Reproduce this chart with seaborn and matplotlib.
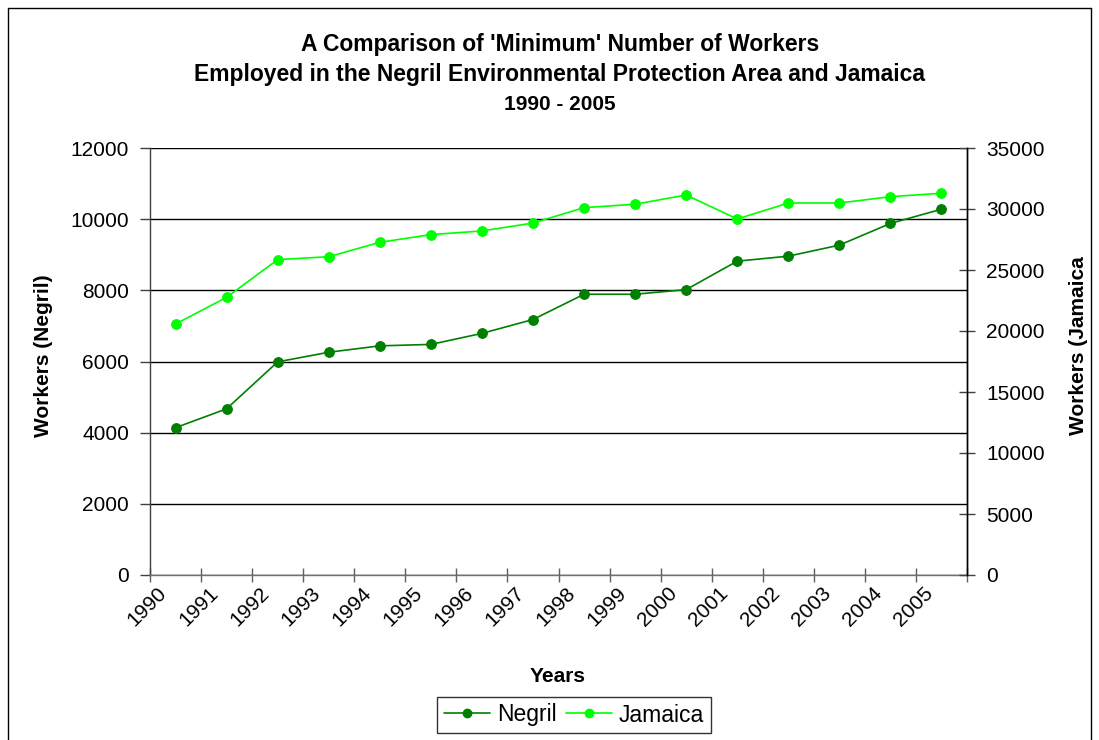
import pandas as pd
import matplotlib
matplotlib.use('Agg')
import matplotlib.pyplot as plt
import matplotlib.transforms as mtransforms
from matplotlib.lines import Line2D
import seaborn as sns

# data
years = ['1990', '1991', '1992', '1993', '1994', '1995', '1996', '1997',
         '1998', '1999', '2000', '2001', '2002', '2003', '2004', '2005']
negril = [4140, 4670, 5990, 6260, 6440, 6480, 6790, 7180,
          7890, 7890, 8020, 8820, 8960, 9270, 9880, 10280]
jamaica = [20570, 22760, 25850, 26090, 27270, 27900, 28200, 28850,
           30110, 30390, 31150, 29180, 30490, 30490, 31010, 31290]
title_lines = ["A Comparison of 'Minimum' Number of Workers",
               "Employed in the Negril Environmental Protection Area and Jamaica",
               "1990 - 2005"]

df = pd.DataFrame({'year': years, 'negril': negril, 'jamaica': jamaica})

sns.set_theme(style='white')
plt.rcParams['font.family'] = ['Liberation Sans', 'DejaVu Sans']
plt.rcParams['text.color'] = 'black'
plt.rcParams['axes.labelcolor'] = 'black'
plt.rcParams['xtick.color'] = 'black'
plt.rcParams['ytick.color'] = 'black'

W, H = 1099, 740
fig = plt.figure(figsize=(W / 100, H / 100), dpi=100)
fig.patch.set_facecolor('white')

# plot area in pixels: x 150-967, y 148-575
ax = fig.add_axes([150 / W, 1 - 575 / H, 817 / W, 427 / H])
ax2 = ax.twinx()

neg_col = '#008000'
jam_col = '#00FF00'

sns.lineplot(data=df, x='year', y='negril', ax=ax, color=neg_col, marker='o',
             markersize=7, markeredgecolor=neg_col, linewidth=1.2, sort=False)
sns.lineplot(data=df, x='year', y='jamaica', ax=ax2, color=jam_col, marker='o',
             markersize=7, markeredgecolor=jam_col, linewidth=1.2, sort=False)

ax.set_xlim(-0.5, len(years) - 0.5)
ax.set_ylim(0, 12000)
ax2.set_ylim(0, 35000)
ax.set_yticks(range(0, 12001, 2000))
ax2.set_yticks(range(0, 35001, 5000))

# gridlines on the left axis
ax.yaxis.grid(True, color='black', linewidth=1)
ax.set_axisbelow(True)

# x ticks: marks at category boundaries, labels centred
ax.set_xticks(range(len(years)))
ax.set_xticklabels(years, rotation=45, ha='right', fontsize=15)
ax.set_xticks([i - 0.5 for i in range(len(years) + 1)], minor=True)
ax.tick_params(axis='x', which='major', length=0, pad=6)
ax.tick_params(axis='x', which='minor', length=10, direction='inout',
               color='#606060', width=1, bottom=True)
shift = mtransforms.ScaledTranslation(-5 / 100, 0, fig.dpi_scale_trans)
for lab in ax.get_xticklabels():
    lab.set_transform(lab.get_transform() + shift)

ax.tick_params(axis='y', which='major', length=7, direction='out', color='#404040',
               width=1, labelsize=15, pad=8, left=True)
ax2.tick_params(axis='y', which='major', length=12, direction='inout', color='#404040',
                width=1, labelsize=15, pad=8, right=True)

for a in (ax, ax2):
    a.spines['top'].set_visible(False)
    a.spines['left'].set_color('#404040')
    a.spines['bottom'].set_color('#707070')
    a.spines['right'].set_color('black')
    for s in a.spines.values():
        s.set_linewidth(1)
ax2.spines['left'].set_visible(False)
ax2.spines['bottom'].set_visible(False)

ax.set_xlabel('Years', fontsize=15, fontweight='bold')
ax.xaxis.set_label_coords((558 - 150) / 817, (575 - 667) / 427)
ax.set_ylabel('Workers (Negril)', fontsize=15, fontweight='bold')
ax.yaxis.set_label_coords((53 - 150) / 817, (575 - 356) / 427)
ax2.set_ylabel('Workers (Jamaica', fontsize=15, fontweight='bold')
ax2.yaxis.set_label_coords((1069 - 150) / 817, (575 - 346) / 427)

# title, one line at a time
for txt, yc, fs in zip(title_lines, [42, 72, 103], [16.5, 16.5, 15]):
    fig.text(560 / W, 1 - yc / H, txt, ha='center', va='center_baseline',
             fontsize=fs, fontweight='bold')

handles = [Line2D([], [], color=neg_col, marker='o', markersize=6, linewidth=1.2),
           Line2D([], [], color=jam_col, marker='o', markersize=6, linewidth=1.2)]
leg = fig.legend(handles, ['Negril', 'Jamaica'], loc='center',
                 bbox_to_anchor=(574 / W, 1 - 715 / H), ncol=2, fontsize=16.5,
                 frameon=True, fancybox=False, edgecolor='black',
                 handlelength=2.0, handletextpad=0.3, columnspacing=0.4,
                 borderpad=0.3, borderaxespad=0)
leg.get_frame().set_linewidth(1)

# outer chart border (bottom edge cut off)
x0, x1, yt = 8 / W, 1091 / W, 1 - 8 / H
for xs, ys in (([x0, x0], [0, yt]), ([x0, x1], [yt, yt]), ([x1, x1], [yt, 0])):
    fig.add_artist(Line2D(xs, ys, transform=fig.transFigure, color='black', linewidth=1))

fig.savefig('out.png', dpi=100, facecolor='white')
